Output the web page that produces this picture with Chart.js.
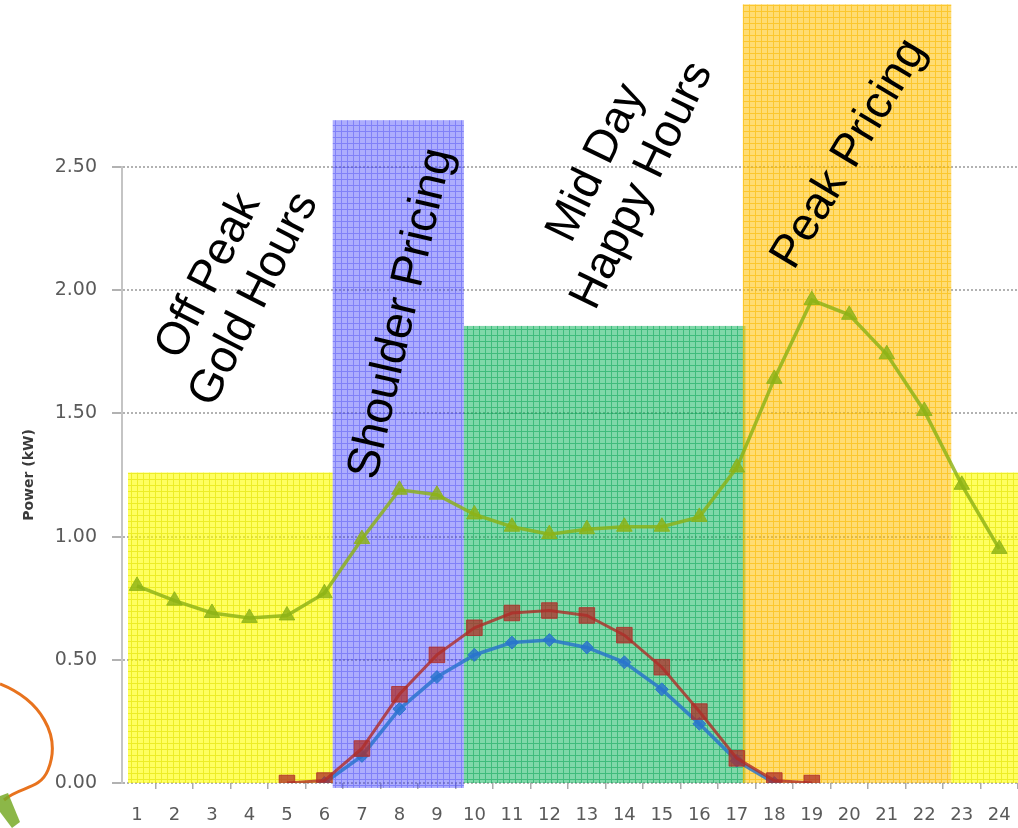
<!DOCTYPE html>
<html>
<head>
<meta charset="utf-8">
<script src="https://cdn.jsdelivr.net/npm/chart.js@4/dist/chart.umd.min.js"></script>
<style>
  html, body { margin: 0; padding: 0; background: #ffffff; }
  #wrap { width: 1018px; height: 828px; }
</style>
</head>
<body>
<div id="wrap"><canvas id="chart" width="1018" height="828"></canvas></div>
<script>
// Hour of day (x axis categories)
const hours = [1, 2, 3, 4, 5, 6, 7, 8, 9, 10, 11, 12, 13, 14, 15, 16, 17, 18, 19, 20, 21, 22, 23, 24];

// Household demand, kW
const demandKW = [0.80, 0.74, 0.69, 0.67, 0.68, 0.77, 0.99, 1.19, 1.17, 1.09, 1.04, 1.01,
                  1.03, 1.04, 1.04, 1.08, 1.28, 1.64, 1.96, 1.90, 1.74, 1.51, 1.21, 0.95];

// Solar output, kW (upper curve)
const solarHighKW = [null, null, null, null, 0.00, 0.01, 0.14, 0.36, 0.52, 0.63, 0.69, 0.70,
                     0.68, 0.60, 0.47, 0.29, 0.10, 0.01, 0.00, null, null, null, null, null];

// Solar output, kW (lower curve)
const solarLowKW = [null, null, null, null, null, 0.00, 0.11, 0.30, 0.43, 0.52, 0.57, 0.58,
                    0.55, 0.49, 0.38, 0.24, 0.09, 0.00, null, null, null, null, null, null];

// Power axis ticks
const powerTicks = [0, 0.5, 1.0, 1.5, 2.0, 2.5];

// Tariff periods: start hour, end hour, band height (kW)
const periodStart = [0.76, 6.22, 9.72, 17.16, 22.72];
const periodEnd   = [6.22, 9.72, 17.23, 22.72, 24.5];
const periodTop   = [1.26, 2.69, 1.855, 3.16, 1.26];
const periodKind  = ['offpeak', 'shoulder', 'midday', 'peak', 'offpeak'];

// Period captions
const captionLines = [['Off Peak', 'Gold Hours'], ['Shoulder Pricing'], ['Mid Day', 'Happy Hours'], ['Peak Pricing']];

// Caption placement (hour, kW, degrees)
const captionPlacement = [
  { x: 3.52, y: 2.01, angle: -63 },
  { x: 8.06, y: 1.905, angle: -77 },
  { x: 13.87, y: 2.47, angle: -64 },
  { x: 20.0, y: 2.553, angle: -59 }
];

// Band fills: translucent wash plus a fine grid texture
const bandStyle = {
  offpeak:  { fill: 'rgba(255,255,0,0.62)',  line: 'rgba(225,225,0,0.6)' },
  shoulder: { fill: 'rgba(50,50,250,0.40)',  line: 'rgba(70,70,240,0.42)' },
  midday:   { fill: 'rgba(10,180,90,0.52)',  line: 'rgba(0,160,80,0.5)' },
  peak:     { fill: 'rgba(255,192,0,0.55)',  line: 'rgba(250,185,0,0.6)' }
};

function makePattern(ctx, style) {
  const tile = document.createElement('canvas');
  tile.width = 6; tile.height = 6;
  const t = tile.getContext('2d');
  t.fillStyle = style.fill;
  t.fillRect(0, 0, 6, 6);
  t.fillStyle = style.line;
  t.fillRect(5, 0, 1, 6);
  t.fillRect(0, 5, 5, 1);
  return ctx.createPattern(tile, 'repeat');
}

const tariffBands = {
  id: 'tariffBands',
  beforeDatasetsDraw(chart) {
    const { ctx, scales: { x, y } } = chart;
    ctx.save();
    for (let i = 0; i < periodStart.length; i++) {
      const left = x.getPixelForValue(periodStart[i]);
      const right = x.getPixelForValue(periodEnd[i]);
      const top = y.getPixelForValue(periodTop[i]);
      const bottom = y.getPixelForValue(periodKind[i] === 'shoulder' ? -0.02 : 0);
      ctx.fillStyle = makePattern(ctx, bandStyle[periodKind[i]]);
      ctx.fillRect(left, top, right - left, bottom - top);
    }
    ctx.restore();
  },
  afterDraw(chart) {
    const { ctx, scales: { x, y } } = chart;
    ctx.save();
    ctx.fillStyle = '#000000';
    ctx.font = '46px "Liberation Sans", Arial, sans-serif';
    ctx.textAlign = 'center';
    ctx.textBaseline = 'middle';
    const lineHeight = 51;
    captionLines.forEach((lines, i) => {
      const p = captionPlacement[i];
      ctx.save();
      ctx.translate(x.getPixelForValue(p.x), y.getPixelForValue(p.y));
      ctx.rotate(p.angle * Math.PI / 180);
      lines.forEach((txt, j) => {
        ctx.fillText(txt, 0, (j - (lines.length - 1) / 2) * lineHeight);
      });
      ctx.restore();
    });

    // stray orange stroke at the lower left edge
    ctx.strokeStyle = '#e8731e';
    ctx.lineWidth = 3;
    ctx.beginPath();
    ctx.moveTo(0, 684);
    ctx.bezierCurveTo(40, 700, 62, 735, 48, 770);
    ctx.bezierCurveTo(40, 790, 20, 786, 4, 800);
    ctx.stroke();
    ctx.fillStyle = 'rgba(120,170,40,0.85)';
    ctx.beginPath();
    ctx.moveTo(0, 796);
    ctx.lineTo(8, 793);
    ctx.lineTo(20, 822);
    ctx.lineTo(12, 828);
    ctx.lineTo(0, 812);
    ctx.closePath();
    ctx.fill();
    ctx.restore();
  }
};

new Chart(document.getElementById('chart'), {
  type: 'line',
  data: {
    labels: hours,
    datasets: [
      {
        label: 'Demand',
        data: demandKW,
        borderColor: 'rgba(140,178,22,0.82)',
        backgroundColor: 'rgba(140,178,22,0.82)',
        borderWidth: 3.5,
        pointStyle: 'triangle',
        pointRadius: 9,
        pointBorderWidth: 1,
        tension: 0
      },
      {
        label: 'Solar A',
        data: solarHighKW,
        borderColor: 'rgba(175,45,40,0.8)',
        backgroundColor: 'rgba(175,45,40,0.75)',
        borderWidth: 3,
        pointStyle: 'rect',
        pointRadius: 11,
        pointBorderWidth: 1,
        tension: 0
      },
      {
        label: 'Solar B',
        data: solarLowKW,
        borderColor: 'rgba(40,115,205,0.82)',
        backgroundColor: 'rgba(40,115,205,0.82)',
        borderWidth: 3.5,
        pointStyle: 'rectRot',
        pointRadius: 6.5,
        pointBorderWidth: 1,
        tension: 0
      }
    ]
  },
  options: {
    responsive: false,
    devicePixelRatio: 1,
    animation: false,
    layout: { autoPadding: false, padding: { top: 167, left: 0, right: 0, bottom: 0 } },
    plugins: {
      legend: { display: false },
      tooltip: { enabled: false }
    },
    scales: {
      x: {
        type: 'linear',
        min: 0.6,
        max: 24.5,
        afterBuildTicks(scale) { scale.ticks = hours.map(v => ({ value: v })); },
        afterFit(scale) {
          scale.height = 45;
          scale.paddingLeft = 0;
          scale.paddingRight = 0;
        },
        grid: {
          display: true,
          offset: true,
          drawOnChartArea: false,
          drawTicks: true,
          tickLength: 6,
          color: 'rgba(150,150,150,0.8)',
          lineWidth: 1.5
        },
        border: { display: false },
        ticks: {
          autoSkip: false,
          maxRotation: 0,
          padding: 16,
          color: '#5a5a5a',
          font: { family: '"DejaVu Sans", sans-serif', size: 18 },
          callback: v => String(v)
        }
      },
      y: {
        min: 0,
        max: 2.5,
        afterBuildTicks(scale) { scale.ticks = powerTicks.map(v => ({ value: v })); },
        afterFit(scale) { scale.width = 122; },
        grid: {
          color: 'rgba(165,165,165,0.85)',
          lineWidth: 2,
          tickLength: 10,
          tickColor: 'rgba(165,165,165,0.85)'
        },
        border: { display: true, color: 'rgba(190,190,190,0.9)', width: 2, dash: [2, 2] },
        ticks: {
          padding: 15,
          color: '#5a5a5a',
          font: { family: '"DejaVu Sans", sans-serif', size: 19 },
          callback: v => Number(v).toFixed(2)
        },
        title: {
          display: true,
          text: 'Power (kW)',
          color: '#3a3a3a',
          font: { family: '"DejaVu Sans", sans-serif', size: 14, weight: 'bold' },
          padding: { top: 21, bottom: 0 }
        }
      }
    }
  },
  plugins: [tariffBands]
});
</script>
</body>
</html>
